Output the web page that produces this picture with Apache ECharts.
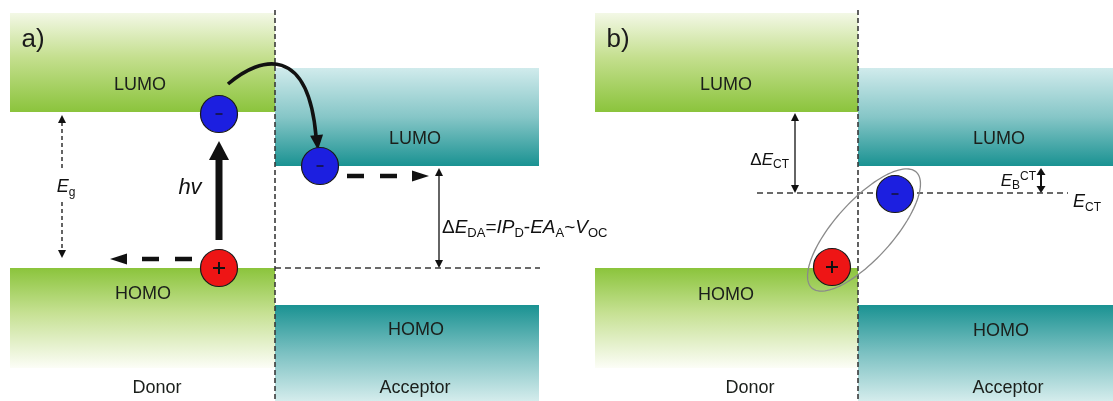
<!DOCTYPE html>
<html>
<head>
<meta charset="utf-8">
<title>Donor / Acceptor energy levels</title>
<script src="https://cdn.jsdelivr.net/npm/echarts@6/dist/echarts.min.js"></script>
<style>
  html, body { margin: 0; padding: 0; background: #ffffff; }
  #chart { width: 1113px; height: 401px; }
</style>
</head>
<body>
<div id="chart"></div>
<script>
// Diagram space: x runs left to right, y runs downward (lower energy is lower on the page).

// Energy bands: [xStart, xEnd, yTop, yBottom, material, level]
const bands = [
  [10, 275, 13, 112, 'Donor', 'LUMO'],
  [10, 275, 268, 368, 'Donor', 'HOMO'],
  [275, 539, 68, 166, 'Acceptor', 'LUMO'],
  [275, 539, 305, 401, 'Acceptor', 'HOMO'],
  [595, 858, 13, 112, 'Donor', 'LUMO'],
  [595, 858, 268, 368, 'Donor', 'HOMO'],
  [858, 1113, 68, 166, 'Acceptor', 'LUMO'],
  [858, 1113, 305, 401, 'Acceptor', 'HOMO']
];
// Level names written inside the bands: [x, y, text]
const levelLabels = [
  [140, 85, 'LUMO'], [143, 294, 'HOMO'], [415, 139, 'LUMO'], [416, 330, 'HOMO'],
  [726, 85, 'LUMO'], [726, 295, 'HOMO'], [999, 139, 'LUMO'], [1001, 331, 'HOMO']
];
// Material names under each column: [x, y, text]
const materialLabels = [[157, 388, 'Donor'], [415, 388, 'Acceptor'], [750, 388, 'Donor'], [1008, 388, 'Acceptor']];
// Panel tags: [x, y, text]
const panelLabels = [[33, 40, 'a)'], [618, 40, 'b)']];
// Donor/acceptor interfaces: [x, yStart, yEnd]
const interfaces = [[275, 10, 401], [858, 10, 401]];
// Reference energy lines: [xStart, xEnd, y]
const referenceLines = [[275, 540, 268], [757, 1068, 193]];
// Energy differences (double arrows): [x, yTop, yBottom, dashed, gapTop, gapBottom]
const energyGaps = [
  [62, 115, 258, 1, 168, 202],
  [439, 168, 268, 0, 0, 0],
  [795, 113, 193, 0, 0, 0],
  [1041, 168, 193, 0, 0, 0]
];
// Carrier drift (dashed arrows): [xStart, y, xTip]
const driftArrows = [[192, 259, 110], [347, 176, 429]];
// Photo-excitation: [x, yStart, yTip]
const excitation = [[219, 240, 141]];
// Electron transfer across the interface: [x0, y0, cx1, cy1, cx2, cy2, x1, y1, xTip, yTip]
const transfer = [[228, 84, 262, 55, 308, 46, 316, 136, 318, 150]];
// Bound charge-transfer pair: [cx, cy, semiMajor, semiMinor, tiltDeg]
const ctPair = [[864, 230, 78, 29, 48]];
// Charges: [x, y, sign]
const charges = [[219, 114, -1], [219, 268, 1], [320, 166, -1], [895, 194, -1], [832, 267, 1]];
// Math labels: [x, y, align, fontSize, tokens]  (n = upright, i = italic, s = subscript, p = superscript)
const mathLabels = [
  [190, 188, 'center', 22, [['i', 'hv']]],
  [66, 187, 'center', 18, [['i', 'E'], ['s', 'g']]],
  [442, 228, 'left', 19, [['n', 'Δ'], ['i', 'E'], ['s', 'DA'], ['n', '='], ['i', 'IP'], ['s', 'D'], ['n', '-'], ['i', 'EA'], ['s', 'A'], ['n', '~'], ['i', 'V'], ['s', 'OC']]],
  [789, 160, 'right', 17, [['n', 'Δ'], ['i', 'E'], ['s', 'CT']]],
  [1036, 181, 'right', 17, [['i', 'E'], ['s', 'B'], ['p', 'CT']]],
  [1073, 202, 'left', 18, [['i', 'E'], ['s', 'CT']]]
];

const FONT = "'Liberation Sans', Arial, Helvetica, sans-serif";
const INK = '#111111';

const bandColors = {
  'Donor-LUMO': [[0, '#f3f8e6'], [0.45, '#c4df8e'], [1, '#8bc43c']],
  'Donor-HOMO': [[0, '#8bc43c'], [0.45, '#c6e193'], [1, '#fcfdf7']],
  'Acceptor-LUMO': [[0, '#d0ebec'], [0.5, '#86c6c7'], [1, '#1a9292']],
  'Acceptor-HOMO': [[0, '#1a9292'], [0.5, '#7cc1c2'], [1, '#d4ecec']]
};

function head(tip, from, len, half) {
  const dx = tip[0] - from[0], dy = tip[1] - from[1];
  const d = Math.hypot(dx, dy) || 1;
  const ux = dx / d, uy = dy / d;
  const bx = tip[0] - ux * len, by = tip[1] - uy * len;
  return {
    type: 'polygon',
    shape: { points: [tip, [bx - uy * half, by + ux * half], [bx + uy * half, by - ux * half]] },
    style: { fill: INK }
  };
}

function richFor(size) {
  const sub = Math.round(size * 0.68);
  const lh = Math.round(size * 1.25);
  return {
    n: { fontSize: size, fontFamily: FONT, lineHeight: lh, fill: INK },
    i: { fontSize: size, fontFamily: FONT, fontStyle: 'italic', lineHeight: lh, fill: INK },
    s: { fontSize: sub, fontFamily: FONT, lineHeight: sub, verticalAlign: 'bottom', fill: INK },
    p: { fontSize: sub, fontFamily: FONT, lineHeight: sub, verticalAlign: 'top', fill: INK }
  };
}

function layer(name, rows, render, z) {
  return {
    type: 'custom',
    name: name,
    coordinateSystem: 'cartesian2d',
    clip: false,
    silent: true,
    z: z,
    data: rows.map(r => [r[0], r[1]]),
    renderItem: (params, api) => render(rows[params.dataIndex], api)
  };
}

const plainText = (size) => (row, api) => {
  const p = api.coord([row[0], row[1]]);
  return {
    type: 'text', x: p[0], y: p[1],
    style: { text: row[2], fontSize: size, fontFamily: FONT, fill: '#1b1f1b', align: 'center', verticalAlign: 'middle' }
  };
};

const series = [
  layer('bands', bands, (b, api) => {
    const p0 = api.coord([b[0], b[2]]), p1 = api.coord([b[1], b[3]]);
    const stops = bandColors[b[4] + '-' + b[5]].map(s => ({ offset: s[0], color: s[1] }));
    return {
      type: 'rect',
      shape: { x: p0[0], y: p0[1], width: p1[0] - p0[0], height: p1[1] - p0[1] },
      style: { fill: new echarts.graphic.LinearGradient(0, 0, 0, 1, stops) }
    };
  }, 1),
  layer('interfaces', interfaces, (r, api) => {
    const a = api.coord([r[0], r[1]]), b = api.coord([r[0], r[2]]);
    return { type: 'line', shape: { x1: a[0], y1: a[1], x2: b[0], y2: b[1] },
      style: { stroke: '#3a3a3a', lineWidth: 1.6, lineDash: [5, 3] } };
  }, 2),
  layer('reference', referenceLines, (r, api) => {
    const a = api.coord([r[0], r[2]]), b = api.coord([r[1], r[2]]);
    return { type: 'line', shape: { x1: a[0], y1: a[1], x2: b[0], y2: b[1] },
      style: { stroke: '#3a3a3a', lineWidth: 1.4, lineDash: [6, 4] } };
  }, 2),
  layer('gaps', energyGaps, (r, api) => {
    const a = api.coord([r[0], r[1]]), b = api.coord([r[0], r[2]]);
    const dashed = r[3] === 1;
    const small = Math.abs(b[1] - a[1]) < 40;
    const len = small ? 7 : 8, half = small ? 4.5 : 4;
    const m = small ? 4 : len - 1;
    const lineStyle = { stroke: INK, lineWidth: small ? 2 : 1.3, lineDash: dashed ? [4, 3] : null };
    const kids = [head(a, b, len, half), head(b, a, len, half)];
    if (r[4] > 0) {
      const g0 = api.coord([r[0], r[4]]), g1 = api.coord([r[0], r[5]]);
      kids.push({ type: 'line', shape: { x1: a[0], y1: a[1] + m, x2: g0[0], y2: g0[1] }, style: lineStyle });
      kids.push({ type: 'line', shape: { x1: g1[0], y1: g1[1], x2: b[0], y2: b[1] - m }, style: lineStyle });
    } else {
      kids.push({ type: 'line', shape: { x1: a[0], y1: a[1] + m, x2: b[0], y2: b[1] - m }, style: lineStyle });
    }
    return { type: 'group', children: kids };
  }, 3),
  layer('drift', driftArrows, (r, api) => {
    const s = api.coord([r[0], r[1]]), t = api.coord([r[2], r[1]]);
    const dir = Math.sign(t[0] - s[0]);
    const baseX = t[0] - dir * 17;
    return { type: 'group', children: [
      { type: 'line', shape: { x1: s[0], y1: s[1], x2: baseX, y2: s[1] },
        style: { stroke: INK, lineWidth: 4.5, lineDash: [17, 16] } },
      head(t, s, 17, 5.5)
    ] };
  }, 3),
  layer('excitation', excitation, (r, api) => {
    const s = api.coord([r[0], r[1]]), t = api.coord([r[0], r[2]]);
    return { type: 'group', children: [
      { type: 'line', shape: { x1: s[0], y1: s[1], x2: t[0], y2: t[1] + 17 },
        style: { stroke: INK, lineWidth: 7 } },
      head(t, s, 19, 10)
    ] };
  }, 3),
  layer('transfer', transfer, (r, api) => {
    const p0 = api.coord([r[0], r[1]]), c1 = api.coord([r[2], r[3]]), c2 = api.coord([r[4], r[5]]);
    const p1 = api.coord([r[6], r[7]]), tip = api.coord([r[8], r[9]]);
    return { type: 'group', children: [
      { type: 'bezierCurve', shape: { x1: p0[0], y1: p0[1], cpx1: c1[0], cpy1: c1[1], cpx2: c2[0], cpy2: c2[1], x2: p1[0], y2: p1[1] },
        style: { stroke: INK, lineWidth: 3.6, fill: null } },
      head(tip, c2, 15, 6.5)
    ] };
  }, 3),
  layer('ctPair', ctPair, (r, api) => {
    const t = r[4] * Math.PI / 180;
    const pts = [];
    for (let k = 0; k < 120; k++) {
      const a = k / 120 * Math.PI * 2;
      const ex = r[2] * Math.cos(a), ey = r[3] * Math.sin(a);
      pts.push(api.coord([r[0] + ex * Math.cos(t) - ey * Math.sin(t), r[1] - ex * Math.sin(t) - ey * Math.cos(t)]));
    }
    return { type: 'polygon', shape: { points: pts }, style: { fill: null, stroke: '#8a8a8a', lineWidth: 1.3 } };
  }, 4),
  layer('charges', charges, (r, api) => {
    const c = api.coord([r[0], r[1]]);
    const hole = r[2] > 0;
    const kids = [
      { type: 'circle', shape: { cx: c[0], cy: c[1], r: 18.5 },
        style: { fill: hole ? '#ee1515' : '#1c1fe0', stroke: '#1a1a1a', lineWidth: 1.2 } },
      { type: 'line', shape: { x1: c[0] - (hole ? 6 : 3.5), y1: c[1], x2: c[0] + (hole ? 6 : 3.5), y2: c[1] },
        style: { stroke: hole ? '#111' : '#151560', lineWidth: 2 } }
    ];
    if (hole) {
      kids.push({ type: 'line', shape: { x1: c[0], y1: c[1] - 6, x2: c[0], y2: c[1] + 6 },
        style: { stroke: '#111', lineWidth: 2 } });
    }
    return { type: 'group', children: kids };
  }, 5),
  layer('levelLabels', levelLabels, plainText(18), 6),
  layer('materialLabels', materialLabels, plainText(18), 6),
  layer('panelLabels', panelLabels, (row, api) => {
    const p = api.coord([row[0], row[1]]);
    return { type: 'text', x: p[0], y: p[1],
      style: { text: row[2], fontSize: 26, fontFamily: FONT, fill: '#1b1b1b', align: 'center', verticalAlign: 'middle' } };
  }, 6),
  layer('mathLabels', mathLabels, (row, api) => {
    const p = api.coord([row[0], row[1]]);
    const text = row[4].map(tk => '{' + tk[0] + '|' + tk[1] + '}').join('');
    return { type: 'text', x: p[0], y: p[1],
      style: { text: text, rich: richFor(row[3]), align: row[2], verticalAlign: 'middle', fill: INK } };
  }, 6)
];

const chart = echarts.init(document.getElementById('chart'), null, { renderer: 'canvas' });
chart.setOption({
  animation: false,
  backgroundColor: '#ffffff',
  grid: { left: 0, right: 0, top: 0, bottom: 0, containLabel: false },
  xAxis: { type: 'value', min: 0, max: 1113, show: false },
  yAxis: { type: 'value', min: 0, max: 401, inverse: true, show: false },
  series: series
});
</script>
</body>
</html>
